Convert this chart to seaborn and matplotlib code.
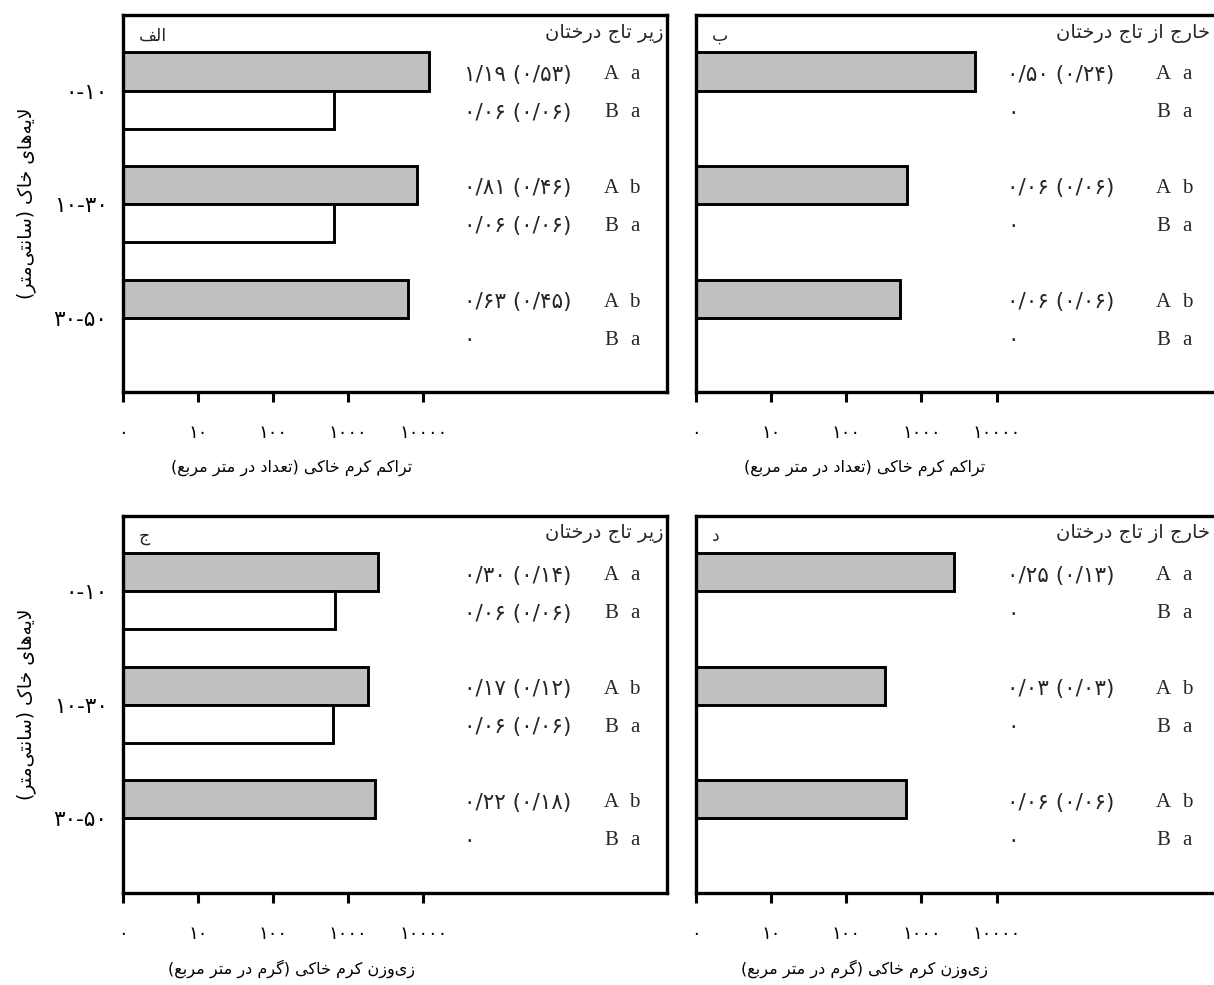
import numpy as np
import pandas as pd
import matplotlib
matplotlib.use("Agg")
import matplotlib.pyplot as plt
import matplotlib.transforms as mtransforms
import seaborn as sns

# ---------------- data ----------------
depths = ["۰-۱۰", "۱۰-۳۰", "۳۰-۵۰"]
groups = ["A", "B"]

density_under_A = [11900, 8300, 6300]
density_under_B = [650, 650, 0]
density_out_A = [5200, 650, 520]
density_out_B = [0, 0, 0]
biomass_under_A = [2480, 1850, 2250]
biomass_under_B = [660, 620, 0]
biomass_out_A = [2700, 330, 620]
biomass_out_B = [0, 0, 0]

note_density_under_A = ["۱/۱۹ (۰/۵۳)", "۰/۸۱ (۰/۴۶)", "۰/۶۳ (۰/۴۵)"]
note_density_under_B = ["۰/۰۶ (۰/۰۶)", "۰/۰۶ (۰/۰۶)", "۰"]
note_density_out_A = ["۰/۵۰ (۰/۲۴)", "۰/۰۶ (۰/۰۶)", "۰/۰۶ (۰/۰۶)"]
note_density_out_B = ["۰", "۰", "۰"]
note_biomass_under_A = ["۰/۳۰ (۰/۱۴)", "۰/۱۷ (۰/۱۲)", "۰/۲۲ (۰/۱۸)"]
note_biomass_under_B = ["۰/۰۶ (۰/۰۶)", "۰/۰۶ (۰/۰۶)", "۰"]
note_biomass_out_A = ["۰/۲۵ (۰/۱۳)", "۰/۰۳ (۰/۰۳)", "۰/۰۶ (۰/۰۶)"]
note_biomass_out_B = ["۰", "۰", "۰"]

sig_A = ["a", "b", "b"]
sig_B = ["a", "a", "a"]

tick_values = [1, 10, 100, 1000, 10000]
tick_labels = ["۰", "۱۰", "۱۰۰", "۱۰۰۰", "۱۰۰۰۰"]

title_under = "زیر تاج درختان"
title_out = "خارج از تاج درختان"
panel_letters = ["الف", "ب", "ج", "د"]
xlabel_density = "تراکم کرم خاکی (تعداد در متر مربع)"
xlabel_biomass = "زی‌وزن کرم خاکی (گرم در متر مربع)"
ylabel_text = "لایه‌های خاک (سانتی‌متر)"

# ---------------- simple Persian shaping (presentation forms + RTL) ----------------
FORMS = {
    '\u0627': ('\uFE8D', '\uFE8E', None, None),
    '\u0628': ('\uFE8F', '\uFE90', '\uFE91', '\uFE92'),
    '\u062A': ('\uFE95', '\uFE96', '\uFE97', '\uFE98'),
    '\u062C': ('\uFE9D', '\uFE9E', '\uFE9F', '\uFEA0'),
    '\u062E': ('\uFEA5', '\uFEA6', '\uFEA7', '\uFEA8'),
    '\u062F': ('\uFEA9', '\uFEAA', None, None),
    '\u0631': ('\uFEAD', '\uFEAE', None, None),
    '\u0632': ('\uFEAF', '\uFEB0', None, None),
    '\u0633': ('\uFEB1', '\uFEB2', '\uFEB3', '\uFEB4'),
    '\u0639': ('\uFEC9', '\uFECA', '\uFECB', '\uFECC'),
    '\u0641': ('\uFED1', '\uFED2', '\uFED3', '\uFED4'),
    '\u0644': ('\uFEDD', '\uFEDE', '\uFEDF', '\uFEE0'),
    '\u0645': ('\uFEE1', '\uFEE2', '\uFEE3', '\uFEE4'),
    '\u0646': ('\uFEE5', '\uFEE6', '\uFEE7', '\uFEE8'),
    '\u0647': ('\uFEE9', '\uFEEA', '\uFEEB', '\uFEEC'),
    '\u0648': ('\uFEED', '\uFEEE', None, None),
    '\u06A9': ('\uFB8E', '\uFB8F', '\uFB90', '\uFB91'),
    '\u06AF': ('\uFB92', '\uFB93', '\uFB94', '\uFB95'),
    '\u06CC': ('\uFBFC', '\uFBFD', '\uFBFE', '\uFBFF'),
}


def fa(s):
    def dual(c):
        return c in FORMS and FORMS[c][2] is not None
    out = []
    prev_joins = False
    i, n = 0, len(s)
    while i < n:
        c = s[i]
        if c not in FORMS:
            if c != '\u200c':
                out.append(c)
            prev_joins = False
            i += 1
            continue
        if c == '\u0644' and i + 1 < n and s[i + 1] == '\u0627':
            out.append('\uFEFC' if prev_joins else '\uFEFB')
            prev_joins = False
            i += 2
            continue
        nxt = s[i + 1] if i + 1 < n else ''
        joins_next = dual(c) and nxt in FORMS
        iso, fin, ini, med = FORMS[c]
        if prev_joins and joins_next:
            g = med
        elif prev_joins:
            g = fin
        elif joins_next:
            g = ini
        else:
            g = iso
        out.append(g)
        prev_joins = dual(c)
        i += 1
    vis = ''.join(reversed(out))
    return vis.translate(str.maketrans('()', ')('))


# ---------------- style ----------------
sns.set_theme(style="ticks")
plt.rcParams['font.family'] = ['DejaVu Sans']
plt.rcParams['axes.linewidth'] = 2.4

fig = plt.figure(figsize=(12.14, 9.85), dpi=100)
W = 544 / 1214
H = 377 / 985
xL = 122.7 / 1214
xR = 696 / 1214
yT = 1 - 392 / 985
yB = 1 - 892.7 / 985

panels = [
    dict(pos=[xL, yT, W, H], A=density_under_A, B=density_under_B,
         nA=note_density_under_A, nB=note_density_under_B, title=title_under,
         letter=panel_letters[0], xlabel=xlabel_density, left=True),
    dict(pos=[xR, yT, W, H], A=density_out_A, B=density_out_B,
         nA=note_density_out_A, nB=note_density_out_B, title=title_out,
         letter=panel_letters[1], xlabel=xlabel_density, left=False),
    dict(pos=[xL, yB, W, H], A=biomass_under_A, B=biomass_under_B,
         nA=note_biomass_under_A, nB=note_biomass_under_B, title=title_under,
         letter=panel_letters[2], xlabel=xlabel_biomass, left=True),
    dict(pos=[xR, yB, W, H], A=biomass_out_A, B=biomass_out_B,
         nA=note_biomass_out_A, nB=note_biomass_out_B, title=title_out,
         letter=panel_letters[3], xlabel=xlabel_biomass, left=False),
]

bar_w = 0.67
off = bar_w / 4

for p in panels:
    ax = fig.add_axes(p['pos'])
    df = pd.DataFrame({
        'depth': depths * 2,
        'group': ['A'] * 3 + ['B'] * 3,
        'value': list(p['A']) + list(p['B']),
    })
    df['value'] = df['value'].replace(0, np.nan)
    sns.barplot(data=df, y='depth', x='value', hue='group', order=depths,
                hue_order=groups, orient='h', palette=['#c0c0c0', '#ffffff'],
                edgecolor='black', linewidth=2.1, width=bar_w, saturation=1,
                errorbar=None, legend=False, ax=ax)
    ax.set_xscale('log')
    ax.set_xlim(1, 10 ** 7.24)
    ax.set_ylim(2.655, -0.665)
    ax.set_xticks(tick_values)
    ax.set_xticklabels(tick_labels, fontsize=13)
    ax.xaxis.set_minor_locator(matplotlib.ticker.NullLocator())
    ax.tick_params(axis='x', direction='out', length=7, width=2.2, pad=16,
                   colors='black')
    ax.tick_params(axis='y', length=0, pad=11, labelsize=15.5, colors='black')
    for sp in ax.spines.values():
        sp.set_visible(True)
        sp.set_color('black')
        sp.set_linewidth(2.4)

    ax.set_xlabel(fa(p['xlabel']), fontsize=11.5, color='black')
    ax.xaxis.label.set_va('center')
    ax.xaxis.set_label_coords(0.31, -0.2016)
    if p['left']:
        ax.set_ylabel(fa(ylabel_text), fontsize=13.5, color='black')
        ax.yaxis.label.set_va('center')
        ax.yaxis.set_label_coords(-0.178, 0.5)
    else:
        ax.set_ylabel('')
        ax.set_yticklabels([])

    # panel texts
    if p['left']:
        ax.text(0.995, 0.952, fa(p['title']), transform=ax.transAxes,
                ha='right', va='center', fontsize=14)
        xnum, xcap, xsig = 0.627, 0.8985, 0.9408
    else:
        ax.text(0.945, 0.952, fa(p['title']), transform=ax.transAxes,
                ha='right', va='center', fontsize=14)
        xnum, xcap, xsig = 0.5717, 0.8598, 0.9026
    ax.text(0.03, 0.945, fa(p['letter']), transform=ax.transAxes,
            ha='left', va='center', fontsize=12.5)

    trans = mtransforms.blended_transform_factory(ax.transAxes, ax.transData)
    for i in range(len(depths)):
        for g, notes, sig, sgn in (('A', p['nA'], sig_A, -1), ('B', p['nB'], sig_B, 1)):
            yy = i + sgn * off + 0.03
            ax.text(xnum, yy, notes[i], transform=trans, ha='left',
                    va='center', fontsize=15.5)
            ax.text(xcap, yy, g, transform=trans, ha='center', va='center',
                    fontsize=15, family='Liberation Serif')
            ax.text(xsig, yy, sig[i], transform=trans, ha='center',
                    va='center', fontsize=15, family='Liberation Serif')

fig.savefig('out.png', dpi=100)
